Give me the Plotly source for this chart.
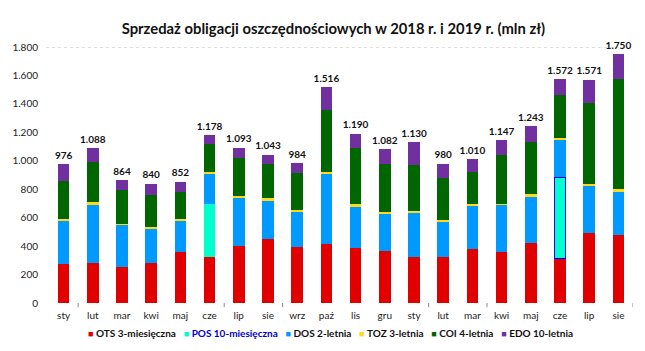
import plotly.graph_objects as go

months = ["sty", "lut", "mar", "kwi", "maj", "cze", "lip", "sie", "wrz", "paź", "lis", "gru",
          "sty", "lut", "mar", "kwi", "maj", "cze", "lip", "sie"]

ots = [276, 283, 250, 283, 360, 325, 404, 447, 395, 418, 388, 369, 325, 320, 381, 362, 423, 313, 489, 480]
pos = [0, 0, 0, 0, 0, 372, 0, 0, 0, 0, 0, 0, 0, 0, 0, 0, 0, 571, 0, 0]
dos = [302, 407, 300, 238, 218, 210, 337, 273, 248, 492, 290, 260, 311, 253, 304, 328, 325, 265, 337, 304]
toz = [14, 21, 9, 10, 16, 17, 14, 21, 14, 9, 21, 14, 14, 14, 14, 9, 21, 14, 14, 21]
coi = [264, 281, 236, 229, 187, 194, 267, 239, 258, 440, 393, 337, 321, 295, 225, 342, 365, 299, 566, 770]
edo = [120, 96, 69, 80, 71, 60, 71, 63, 69, 157, 98, 102, 159, 98, 86, 106, 109, 110, 165, 175]
totals = [976, 1088, 864, 840, 852, 1178, 1093, 1043, 984, 1516, 1190, 1082,
          1130, 980, 1010, 1147, 1243, 1572, 1571, 1750]

series_names = ["OTS 3-miesięczna", "POS 10-miesięczna", "DOS 2-letnia",
                "TOZ 3-letnia", "COI 4-letnia", "EDO 10-letnia"]
series_values = [ots, pos, dos, toz, coi, edo]
series_colors = ["#E00000", "#00FFCC", "#0099FF", "#FFD91A", "#006600", "#7030A0"]

x = list(range(len(months)))

fig = go.Figure()
for name, vals, col in zip(series_names, series_values, series_colors):
    if name.startswith("POS"):
        line = dict(color="#0000FF", width=[1.2 if v > 500 else 0 for v in vals])
    else:
        line = dict(width=0)
    fig.add_trace(go.Bar(x=x, y=vals, name=name, marker=dict(color=col, line=line),
                         width=0.4, showlegend=False, hoverinfo="y+name"))

fig.add_trace(go.Scatter(x=x, y=[t + 20 for t in totals], mode="text",
                         text=[f"{t:,}".replace(",", ".") for t in totals],
                         textposition="top center", showlegend=False, hoverinfo="skip",
                         textfont=dict(family="Lato", size=10, color="#111111", weight="bold"),
                         cliponaxis=False))

# legend built as one text line
parts = []
for name, col in zip(series_names, series_colors):
    tcol = "#0000CC" if name.startswith("POS") else "#111111"
    parts.append(f'<span style="color:{col};font-size:9px">■</span> '
                 f'<span style="color:{tcol}"><b>{name}</b></span>')
legend_text = "   ".join(parts)
fig.add_annotation(text=legend_text, xref="paper", yref="paper", x=0.482, y=-0.116,
                   xanchor="center", yanchor="middle", showarrow=False,
                   font=dict(family="Lato", size=10, color="#111111"))

# top dotted grid line
fig.add_shape(type="line", xref="paper", yref="y", x0=-0.005, x1=1.0, y0=1800, y1=1800,
              line=dict(color="#BFBFBF", width=1, dash="dot"), layer="below")

# sparse tick marks under the category axis
for tx in [0.5, 5.5, 7.5, 12.5, 14.5, 19.5]:
    fig.add_shape(type="line", xref="x", yref="paper", x0=tx, x1=tx, y0=0, y1=-0.016,
                  line=dict(color="#888888", width=1))

fig.update_layout(
    width=645, height=351,
    margin=dict(l=44, r=12, t=47, b=48),
    paper_bgcolor="white", plot_bgcolor="white",
    barmode="stack", bargap=0.6,
    separators=",.",
    title=dict(text="<b>Sprzedaż obligacji oszczędnościowych w 2018 r. i 2019 r. (mln zł)</b>",
               x=0.517, xanchor="center", y=0.918, yanchor="middle",
               font=dict(family="Lato", size=14.8, color="#111111")),
    xaxis=dict(tickvals=x, ticktext=months, range=[-0.5, 19.5], showgrid=False,
               showline=False, zeroline=False, ticks="",
               tickfont=dict(family="Lato", size=10, color="#222222"),
               ticklabelstandoff=5),
    yaxis=dict(range=[0, 1800], tickvals=[0, 200, 400, 600, 800, 1000, 1200, 1400, 1600, 1800],
               tickformat=",", showgrid=False, zeroline=False, showline=False, ticks="",
               tickfont=dict(family="Lato", size=10, color="#222222"),
               ticklabelstandoff=10),
)

fig.write_html("out.html")
